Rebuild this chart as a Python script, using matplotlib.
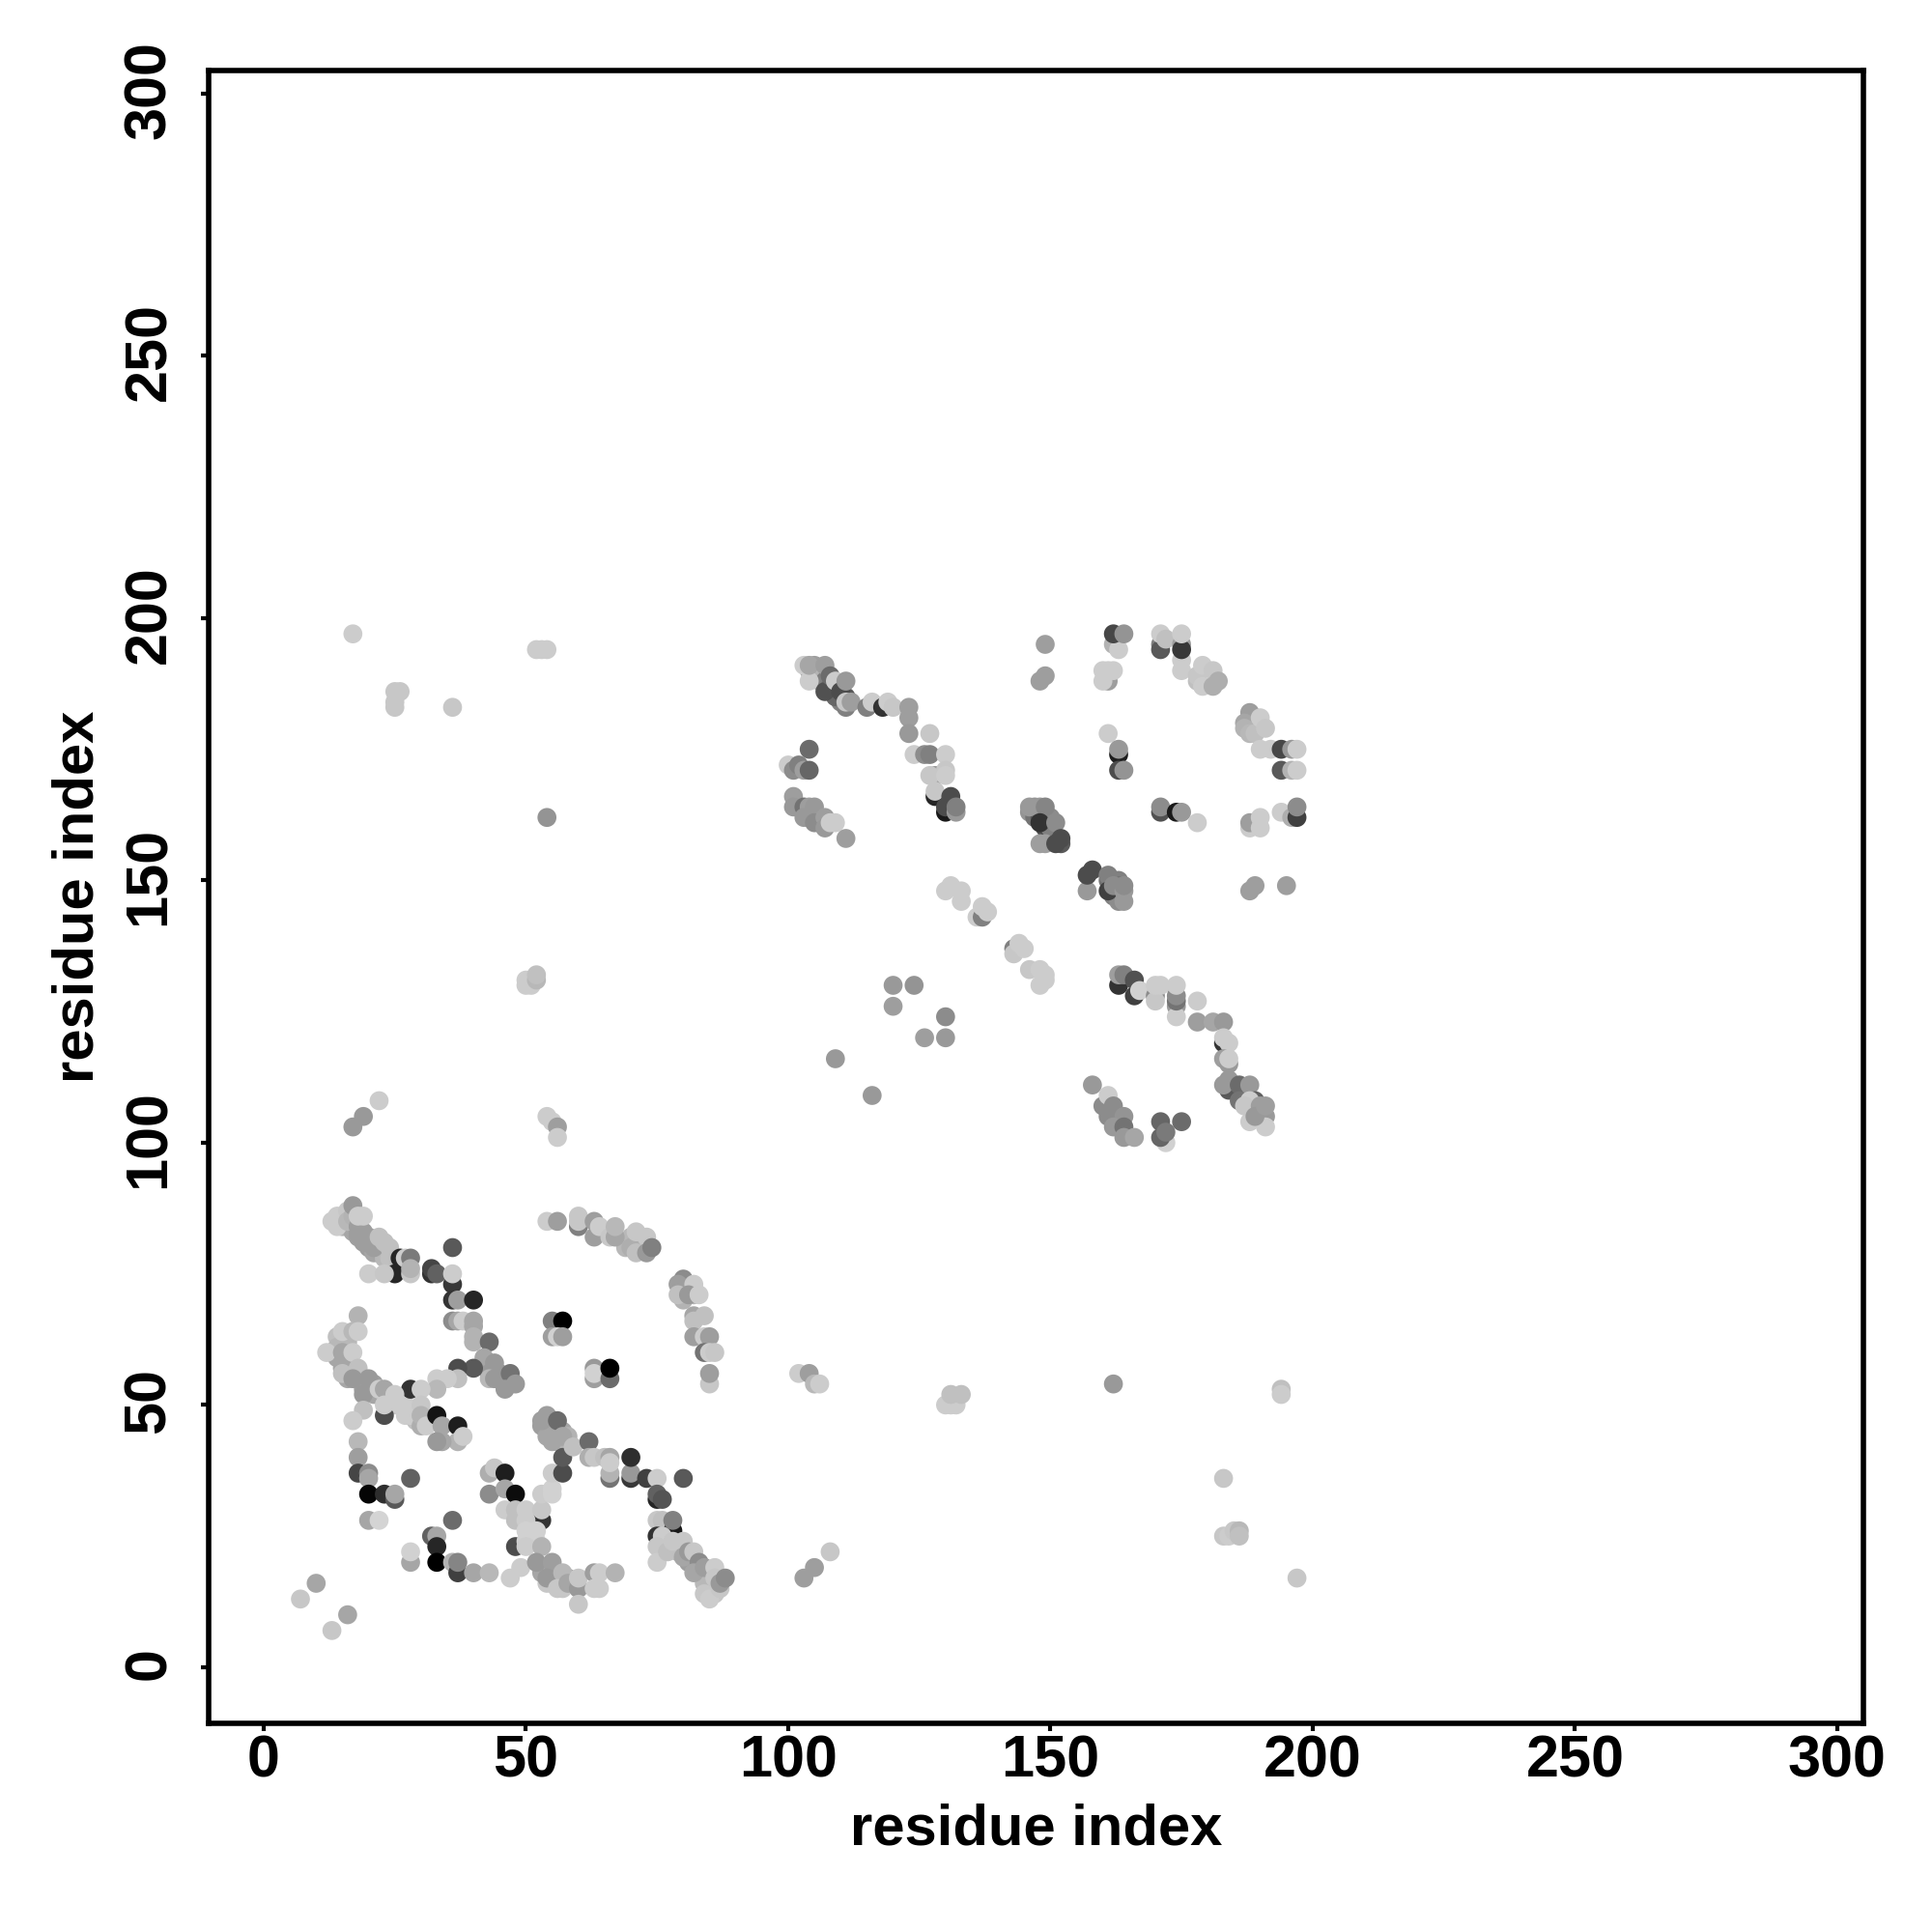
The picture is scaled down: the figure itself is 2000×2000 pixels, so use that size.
import matplotlib
matplotlib.use("Agg")
import matplotlib.pyplot as plt
from matplotlib.transforms import ScaledTranslation
import numpy as np

# contacts as (residue, residue, shade), shade 0 = black, 1 = white
dense_bands = [
    (15,84,.7),(16,84,.7),(17,84,.65),(17,83,.65),(18,82,.62),(18,83,.62),(19,82,.62),(20,80,.62),(21,79,.65),(22,80,.7),
    (23,79,.7),(23,78,.72),(24,78,.75),(25,77,.75),(14,63,.75),(16,63,.72),(16,62,.72),(14,61,.72),(14,59,.65),(15,57,.65),
    (16,55,.65),(16,57,.65),(17,57,.65),(18,55,.62),(19,54,.62),(19,53,.62),(20,53,.62),(21,52,.65),(21,54,.62),(24,51,.78),
    (25,50,.78),(27,50,.8),(27,48,.8),(29,48,.75),(29,47,.75),
    (79,23,.72),(79,22,.72),(80,22,.68),(81,20,.62),(81,21,.62),(82,20,.62),(83,19,.6),(83,18,.6),(84,17,.62),(84,16,.72),
    (85,15,.75),(85,16,.72),(85,18,.72),(86,15,.75),(86,16,.72),
    (54,19,.62),(55,18,.62),(55,17,.62),(56,17,.62),(56,18,.62),(57,16,.68),(58,17,.65),(59,16,.65),(54,16,.78),(53,18,.65),
    (53,46,.62),(54,46,.62),(55,46,.62),(55,44,.62),(56,44,.65),(56,43,.65),(58,43,.7),(57,43,.7),(55,45,.65),(57,45,.65),
    (58,44,.7),(54,44,.65),(56,45,.65),(69,80,.72),(70,82,.72),(72,80,.68),(72,81,.7),(80,72,.68),(80,70,.7),(81,73,.65),
    (81,72,.65),(82,72,.72),(82,71,.7),
    (146,163,.58),(147,163,.58),(147,164,.58),(148,163,.55),(149,163,.55),(147,162,.45),(148,162,.35),(149,161,.3),(149,160,.3),
    (150,160,.5),(150,161,.5),(150,162,.55),(152,157,.35),(149,157,.62),
    (104,190,.65),(105,191,.62),(106,190,.62),(105,189,.72),(106,189,.72),(106,188,.7),(107,188,.5),(108,187,.45),(109,186,.4),
    (110,185,.35),(110,184,.5),(111,185,.35),(109,185,.4),
    (161,150,.45),(162,150,.45),(163,150,.5),(163,149,.45),(163,148,.4),(163,147,.4),(162,147,.5),(163,146,.55),
]
domain1_upper = [
    (13,85,.8),(14,86,.8),(14,84,.8),(15,85,.8),(16,87,.78),(16,85,.72),(17,86,.7),(17,88,.6),(18,84,.62),
    (19,83,.62),(20,81,.62),(19,81,.62),(20,82,.62),(21,80,.62),(18,86,.8),(19,86,.8),(22,82,.75),(23,81,.75),
    (24,80,.75),(25,75,.15),(26,78,.15),(27,78,.8),(28,78,.48),(20,75,.8),(23,75,.78),(28,75,.78),(28,76,.7),
    (32,75,.2),(32,76,.27),(33,75,.38),(36,80,.35),(36,73,.22),(36,75,.8),(36,70,.2),(37,70,.62),(40,70,.15),
    (36,66,.55),(37,66,.65),(38,66,.8),(40,66,.65),(40,65,.65),(40,63,.7),(40,62,.7),(43,62,.42),
    (42,59,.65),(44,58,.6),(43,56,.6),(45,56,.6),(43,55,.72),(44,55,.6),(46,55,.6),(47,56,.45),(46,53,.6),(48,54,.6),
    (40,57,.35),(37,57,.3),(37,55,.75),(33,55,.8),(35,55,.8),(33,53,.72),(28,53,.2),(30,53,.8),
]
domain1_left = [
    (18,67,.7),(15,64,.8),(17,64,.72),(18,64,.8),(12,60,.8),(15,60,.65),(15,58,.65),(17,60,.8),(15,56,.75),(18,57,.75),
    (17,55,.6),(20,55,.6),(19,52,.6),(22,53,.8),(23,53,.65),(25,52,.8),(23,48,.3),(26,50,.8),(23,50,.8),(28,48,.8),
    (30,50,.78),(30,46,.68),(30,48,.7),(31,46,.8),(19,49,.75),(17,47,.8),(33,48,.08),(34,46,.65),(37,46,.12),
    (37,43,.7),(38,44,.8),(34,43,.65),(33,43,.6),(18,43,.72),(18,40,.62),
]
domain1_lower = [
    (18,37,.27),(20,37,.55),(20,36,.65),(20,33,.02),(23,33,.18),(25,32,.35),(25,33,.65),(28,36,.38),(20,28,.65),(22,28,.83),
    (36,28,.42),(32,25,.38),(33,25,.65),(33,23,.15),(33,20,.0),(28,20,.65),(28,22,.82),(36,20,.7),(37,18,.25),(37,20,.52),
    (40,18,.65),(43,18,.72),(47,17,.8),(49,19,.8),(10,16,.65),(7,13,.78),(16,10,.65),(13,7,.78),
    (43,37,.68),(44,38,.78),(46,37,.12),(43,33,.55),(46,34,.65),(48,33,.05),(46,30,.8),(48,30,.75),(48,28,.75),(50,30,.8),
    (53,28,.2),(53,30,.78),(53,33,.8),(55,33,.82),(55,34,.82),(55,37,.8),(57,37,.3),(57,40,.35),(48,23,.3),(50,28,.8),(50,26,.82),
    (50,24,.82),(52,26,.82),(52,24,.82),(50,23,.8),(53,23,.7),(52,20,.6),(55,20,.62),(54,17,.6),(57,18,.72),(56,15,.78),(57,15,.78),
    (58,16,.65),(60,15,.6),(60,17,.78),(60,12,.78),(63,18,.62),(64,18,.8),(63,15,.8),(64,15,.8),(67,18,.7),
]
domain1_middle = [
    (54,48,.62),(53,47,.62),(56,47,.42),(57,44,.65),(55,43,.65),(59,42,.75),(62,43,.42),(62,40,.68),(63,40,.78),(65,40,.75),
    (66,40,.65),(66,36,.45),(66,37,.7),(66,39,.8),(70,36,.22),(70,37,.6),(70,40,.18),(73,36,.25),(75,36,.8),(80,36,.35),
    (75,32,.15),(75,33,.38),(76,32,.33),(75,28,.78),(76,28,.75),(78,26,.1),(75,25,.2),(78,28,.5),(76,25,.8),(75,23,.78),(75,20,.8),
    (77,22,.75),(78,24,.78),(80,24,.78),(80,21,.65),(81,22,.6),(82,22,.78),(83,20,.55),(82,18,.65),(84,19,.62),(86,19,.8),
    (84,14,.78),(86,14,.78),(85,13,.8),(87,15,.78),(86,17,.78),(87,16,.6),(88,17,.55),
]
domain1_arc = [
    (54,85,.8),(56,85,.62),(60,84,.5),(60,86,.78),(60,85,.78),(63,82,.62),(63,85,.62),(64,84,.8),(66,82,.78),(67,82,.65),(67,84,.72),
    (70,80,.68),(71,79,.75),(71,83,.78),(73,82,.78),(73,79,.6),(74,80,.5),
    (80,74,.55),(79,73,.62),(82,73,.8),(79,71,.75),(81,71,.6),(83,71,.8),(82,67,.65),(84,67,.75),(82,66,.75),(82,63,.62),
    (84,63,.8),(85,63,.62),(84,60,.45),(85,60,.8),(86,60,.78),(85,54,.78),(85,56,.62),
    (55,66,.5),(57,66,.0),(55,63,.62),(56,63,.82),(57,63,.62),(63,57,.6),(63,55,.62),(63,56,.82),(66,55,.42),(66,57,.0),
]
domain2_upper = [
    (103,191,.8),(104,188,.8),(104,191,.65),(107,191,.62),(107,186,.32),(108,189,.42),(109,188,.8),(110,186,.3),(111,188,.6),
    (111,183,.5),(111,184,.78),(112,184,.62),(115,183,.5),(116,184,.8),(118,183,.2),(119,184,.8),(120,183,.78),
    (123,183,.62),(123,181,.62),(123,178,.6),(127,178,.78),
    (104,175,.42),(100,172,.8),(101,171,.55),(102,172,.5),(103,171,.62),(104,171,.4),
    (124,174,.8),(126,174,.55),(127,174,.5),(130,174,.8),(128,170,.6),(127,170,.78),(130,171,.78),(130,170,.8),
    (128,166,.15),(128,167,.78),(130,163,.1),(130,164,.3),(131,166,.3),(132,163,.6),(132,164,.5),
    (101,166,.62),(101,164,.6),(103,164,.45),(104,164,.62),(105,164,.6),(103,162,.6),(105,161,.55),(107,162,.62),(107,160,.6),
    (108,161,.8),(109,161,.8),(111,158,.62),
]
domain2_right = [
    (146,164,.6),(148,164,.6),(149,164,.52),(148,161,.2),(151,161,.55),(148,157,.62),(151,157,.3),(152,158,.3),
    (149,195,.62),(149,189,.62),(148,188,.62),(162,195,.7),(163,194,.8),(162,197,.28),(164,197,.58),
    (160,190,.8),(161,188,.62),(160,188,.8),(161,190,.8),(162,190,.8),
    (171,195,.5),(171,194,.35),(171,197,.8),(172,196,.75),(175,195,.62),(175,192,.8),(175,190,.8),(175,194,.22),(175,197,.8),
    (178,188,.75),(178,189,.78),(179,187,.8),(179,191,.8),(181,190,.78),(181,187,.68),(182,188,.68),
    (188,182,.62),(187,180,.65),(187,179,.7),(188,178,.72),(189,178,.75),(190,181,.8),(191,179,.78),
    (161,178,.8),(163,174,.12),(163,175,.6),(163,171,.3),(164,171,.58),
    (190,175,.8),(192,175,.8),(194,175,.28),(196,175,.6),(197,175,.8),(194,171,.35),(196,171,.7),(197,171,.8),
    (171,163,.32),(171,164,.55),(174,163,.1),(175,163,.6),(178,161,.8),
    (188,160,.8),(188,161,.62),(190,162,.8),(190,160,.8),(194,163,.8),(196,162,.68),(197,162,.25),(197,164,.55),
    (188,148,.62),(189,149,.62),(195,149,.62),
    (157,148,.6),(157,151,.3),(158,152,.3),(161,151,.5),(161,148,.25),(162,149,.55),(164,146,.6),(164,148,.6),(164,149,.55),
]
domain2_lower = [
    (130,148,.8),(131,149,.8),(133,148,.8),(133,146,.8),(136,143,.8),(137,143,.5),(137,145,.8),(138,144,.8),
    (143,137,.5),(143,136,.78),(144,138,.8),(145,137,.8),(146,133,.78),(148,133,.8),(149,132,.8),(148,130,.8),(149,131,.8),
    (120,130,.6),(124,130,.58),(120,126,.62),(130,124,.55),(126,120,.62),(130,120,.6),(116,109,.6),(109,116,.6),
    (163,130,.2),(163,132,.62),(164,132,.5),(166,128,.25),(166,131,.32),(167,129,.82),(170,128,.55),(170,127,.78),(170,130,.8),(171,130,.8),
    (174,126,.6),(174,124,.8),(174,127,.45),(174,128,.55),(174,130,.8),(178,127,.8),(178,123,.62),(181,123,.65),(183,123,.6),
    (183,119,.2),(183,120,.8),(184,119,.8),(183,116,.62),(184,115,.6),(184,116,.8),(184,110,.35),(183,111,.6),(184,112,.6),
    (186,111,.42),(186,108,.45),(188,111,.6),(189,108,.38),(188,108,.8),(188,104,.8),(187,107,.78),(190,107,.62),(191,105,.6),(191,103,.8),
    (189,105,.6),(191,107,.62),
    (158,111,.6),(160,107,.55),(161,109,.8),(162,107,.55),(161,105,.55),(164,105,.58),(162,103,.6),(164,103,.45),(164,101,.6),(166,101,.65),
    (172,100,.82),(171,101,.4),(171,104,.4),(172,102,.48),(175,104,.42),
]
isolated = [
    (17,197,.8),(52,194,.8),(53,194,.8),(54,194,.8),(25,186,.78),(26,186,.78),(25,183,.78),(25,184,.78),(36,183,.78),(54,162,.58),
    (50,130,.8),(50,131,.8),(51,130,.8),(52,131,.72),(52,132,.75),(17,103,.6),(19,105,.6),(22,108,.8),
    (54,105,.8),(55,104,.8),(56,103,.62),(56,101,.8),(102,56,.8),(104,56,.62),(105,54,.72),(106,54,.8),
    (130,50,.8),(131,50,.8),(132,50,.8),(131,52,.75),(133,52,.75),(162,54,.6),(194,53,.75),(194,52,.8),
    (183,36,.78),(183,25,.78),(184,25,.8),(185,26,.78),(186,26,.72),(186,25,.75),(197,17,.78),
    (103,17,.62),(105,19,.62),(108,22,.78),
]

tick_values = [0, 50, 100, 150, 200, 250, 300]

contacts = np.array(dense_bands + domain1_upper + domain1_left + domain1_lower + domain1_middle + domain1_arc
                    + domain2_upper + domain2_right + domain2_lower + isolated)

plt.rcParams['font.family'] = ['Liberation Sans', 'DejaVu Sans']
plt.rcParams['font.weight'] = 'bold'

fig = plt.figure(figsize=(20, 20), dpi=100)
ax = fig.add_axes([0.108, 0.108, 0.8565, 0.8555])

ax.scatter(contacts[:, 0], contacts[:, 1], s=200, c=contacts[:, 2], cmap='gray', vmin=0, vmax=1,
           linewidths=0)

ax.set_xlim(-10.5, 305)
ax.set_ylim(-10.7, 304.4)
ax.set_xticks(tick_values)
ax.set_yticks(tick_values)
ax.tick_params(axis='x', length=6, width=3, labelsize=44, pad=2)
ax.tick_params(axis='y', length=6, width=3, labelsize=44, pad=17)
# nudge the rotated y labels up a little so they sit on their ticks
nudge = ScaledTranslation(0, 3 / 72, fig.dpi_scale_trans)
for lab in ax.get_yticklabels():
    lab.set_rotation(90)
    lab.set_va('center')
    lab.set_transform(lab.get_transform() + nudge)
for side in ax.spines.values():
    side.set_linewidth(4)

ax.set_xlabel("residue index", fontsize=43, fontweight='bold', labelpad=10)
ax.set_ylabel("residue index", fontsize=43, fontweight='bold', labelpad=13)

fig.savefig("out.png", dpi=100, facecolor='white')
